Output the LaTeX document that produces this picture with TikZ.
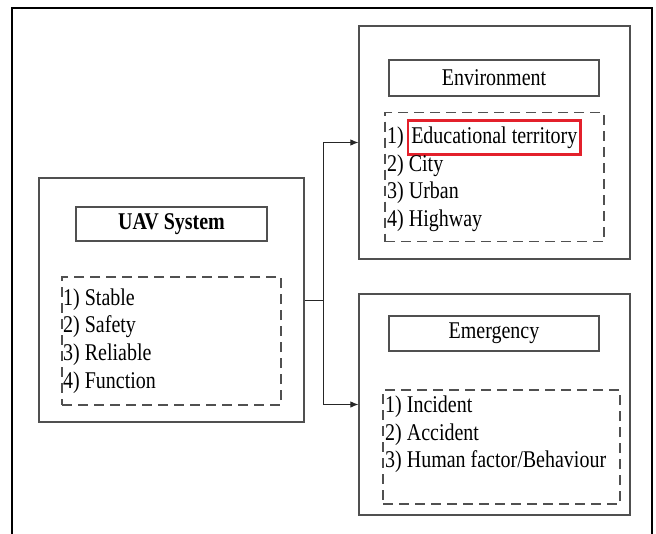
\documentclass[tikz,border=0pt]{standalone}
\usepackage{fontspec}
% tall, narrow Times-like lettering
\setmainfont{Liberation Serif}[FakeStretch=0.833]
\usetikzlibrary{arrows.meta}
\definecolor{boxline}{HTML}{505050}
\definecolor{markred}{HTML}{E3202B}
\tikzset{
  frameline/.style={draw=black, line width=2pt},
  panel/.style={draw=boxline, line width=1.2pt, inner sep=0pt},
  headbox/.style={draw=boxline, line width=1.2pt, inner sep=0pt,
    font=\fontsize{24}{28}\selectfont},
  listbox/.style={draw=boxline, line width=1.2pt, inner sep=0pt,
    dash pattern=on 10pt off 6pt},
  item/.style={anchor=base west, inner sep=0pt, text=black,
    font=\fontsize{24}{28}\selectfont},
  wire/.style={draw=black!85, line width=1pt},
  arrowwire/.style={wire, -{Latex[length=8pt,width=6.5pt]}}
}
\begin{document}
\begin{tikzpicture}[x=1pt, y=-1pt]
\useasboundingbox (0,0) rectangle (656,533);
% page frame, open at the bottom
\draw[frameline] (12,545) -- (12,8) -- (652,8) -- (652,545);

% UAV System panel
\node[panel, minimum width=265pt, minimum height=244pt] (uav) at (171.5,300) {};
\node[headbox, minimum width=191pt, minimum height=34pt, font=\fontsize{24}{28}\selectfont\bfseries] (uavhead) at (171.5,224) {UAV System};
\node[listbox, minimum width=219pt, minimum height=128pt] (uavlist) at (171.5,341) {};
\node[item] (u1) at (63,305) {1) Stable};
\node[item] (u2) at (63,332.5) {2) Safety};
\node[item] (u3) at (63,360) {3) Reliable};
\node[item] (u4) at (63,388) {4) Function};

% Environment panel
\node[panel, minimum width=271pt, minimum height=233pt] (env) at (494.5,142.5) {};
\node[headbox, minimum width=210pt, minimum height=36pt] (envhead) at (494,78) {Environment};
\node[listbox, minimum width=219pt, minimum height=129pt] (envlist) at (494.5,177) {};
\node[item] (e1) at (387,143) {1)};
\node[item, draw=markred, line width=2.5pt, inner xsep=3.5pt, inner ysep=0pt,
  minimum height=34pt] (e1mark) at (406.5,143) {Educational territory};
\node[item] (e2) at (387,171) {2) City};
\node[item] (e3) at (387,198.5) {3) Urban};
\node[item] (e4) at (387,226) {4) Highway};

% Emergency panel
\node[panel, minimum width=271pt, minimum height=221pt] (emg) at (494.5,404.5) {};
\node[headbox, minimum width=210pt, minimum height=35pt] (emghead) at (494,333.5) {Emergency};
\node[listbox, minimum width=237pt, minimum height=114pt] (emglist) at (501.5,447) {};
\node[item] (m1) at (385,412) {1) Incident};
\node[item] (m2) at (385,440) {2) Accident};
\node[item] (m3) at (385,467.5) {3) Human factor/Behaviour};

% connectors
\coordinate (split) at (323,300);
\draw[wire] (uav.east) -- (split);
\draw[arrowwire] (split) |- (env.west);
\draw[arrowwire] (split) |- (emg.west);
\end{tikzpicture}
\end{document}
